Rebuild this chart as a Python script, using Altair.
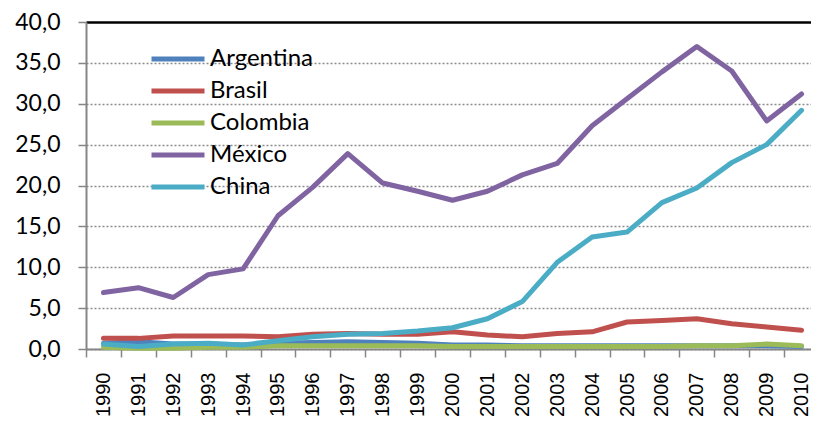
import altair as alt
import pandas as pd

years = [str(y) for y in range(1990, 2011)]
countries = ["Argentina", "Brasil", "Colombia", "México", "China"]
colors = ["#4F81BD", "#C0504D", "#9BBB59", "#8064A2", "#4BACC6"]

argentina = [0.7, 0.9, 0.6, 0.6, 0.5, 0.7, 0.8, 0.9, 0.8, 0.7, 0.5, 0.5, 0.4, 0.4, 0.4, 0.4, 0.4, 0.4, 0.4, 0.4, 0.3]
brasil = [1.3, 1.3, 1.6, 1.6, 1.6, 1.5, 1.8, 1.9, 1.8, 1.8, 2.1, 1.7, 1.5, 1.9, 2.1, 3.3, 3.5, 3.7, 3.1, 2.7, 2.3]
colombia = [0.2, 0.1, 0.1, 0.2, 0.2, 0.4, 0.4, 0.4, 0.4, 0.4, 0.3, 0.3, 0.3, 0.3, 0.3, 0.3, 0.3, 0.4, 0.4, 0.6, 0.4]
mexico = [6.9, 7.5, 6.3, 9.1, 9.8, 16.3, 19.8, 23.9, 20.3, 19.3, 18.2, 19.3, 21.3, 22.7, 27.3, 30.6, 33.9, 37.0, 34.0, 27.9, 31.2]
china = [0.6, 0.3, 0.6, 0.7, 0.5, 1.0, 1.5, 1.8, 1.9, 2.2, 2.6, 3.7, 5.8, 10.6, 13.7, 14.3, 17.9, 19.7, 22.8, 25.0, 29.2]

series = [argentina, brasil, colombia, mexico, china]
rows = []
for ci, (name, vals) in enumerate(zip(countries, series)):
    for y, v in zip(years, vals):
        rows.append({"Año": y, "País": name, "Valor": v, "orden": ci})
df = pd.DataFrame(rows)

y_axis = alt.Axis(
    values=[0, 5, 10, 15, 20, 25, 30, 35, 40],
    labelExpr="replace(format(datum.value, '.1f'), '.', ',')",
    labelFont="Lato", labelFontSize=23, labelColor="#000000",
    labelPadding=18, tickSize=8, tickColor="#868686", tickWidth=1.5,
    domainColor="#868686", domainWidth=2,
    grid=True,
    gridColor=alt.condition("datum.value == 40", alt.value("#000000"), alt.value("#8c8c8c")),
    gridDash=alt.condition("datum.value == 40", alt.value([]), alt.value([2, 2])),
    gridWidth=alt.condition("datum.value == 40", alt.value(2.5), alt.value(1.5)),
    title=None,
)

x_axis = alt.Axis(
    labelAngle=-90, labelFont="Liberation Sans", labelFontSize=20, labelColor="#000000",
    labelPadding=15, labelAlign="right", labelBaseline="middle",
    tickSize=8, tickColor="#868686", tickWidth=1.5, tickBand="extent",
    domainColor="#868686", domainWidth=2, grid=False, title=None,
)

chart = alt.Chart(df).mark_line(strokeWidth=5, strokeJoin="round", strokeCap="round").encode(
    x=alt.X("Año:O", axis=x_axis,
            scale=alt.Scale(type="band", paddingInner=0, paddingOuter=0, range=[0, 733])),
    y=alt.Y("Valor:Q", axis=y_axis, scale=alt.Scale(domain=[0, 40], nice=False)),
    color=alt.Color(
        "País:N",
        scale=alt.Scale(domain=countries, range=colors),
        sort=countries,
        legend=alt.Legend(
            title=None, orient="none", legendX=63, legendY=22,
            symbolType="stroke", symbolSize=2809, symbolStrokeWidth=5,
            labelFont="Lato", labelFontSize=24, labelColor="#000000",
            labelOffset=3, rowPadding=2, padding=0, clipHeight=30,
        ),
    ),
    order=alt.Order("orden:Q"),
    detail="País:N",
).properties(
    width=725, height=327,
    autosize=alt.AutoSizeParams(type="none"),
    padding={"left": 78, "top": 14, "right": 0, "bottom": 70},
).configure_view(stroke=None).configure(background="white")

chart.save("out.html", embed_options={"renderer": "svg", "actions": False})
